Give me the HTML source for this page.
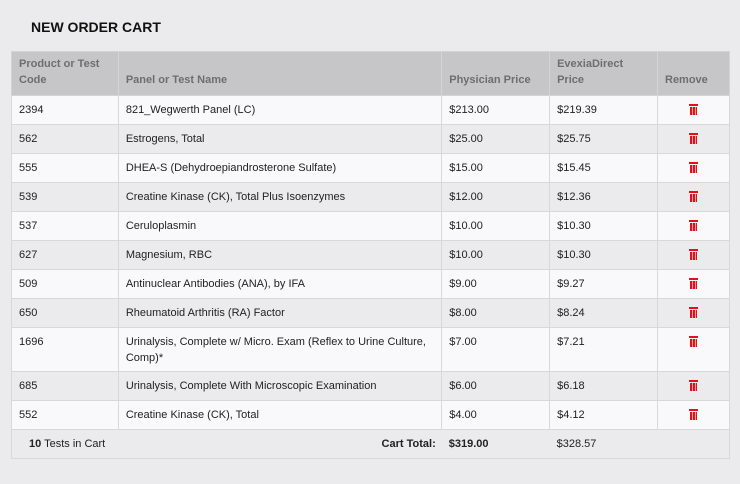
<!DOCTYPE html>
<html><head><style>
body{margin:0;width:740px;height:484px;background:#ebeaec;font-family:"Liberation Sans",sans-serif;position:relative;overflow:hidden}
h1{position:absolute;left:31px;top:19px;margin:0;font-size:14px;font-weight:bold;color:#111}
table{position:absolute;left:11px;top:51px;border-collapse:collapse;width:719px;font-size:11px;color:#222}
td,th{border:1px solid #d8d7d9;padding:0 7px;vertical-align:middle;text-align:left}
th{background:#c6c5c7;color:#6e6d70;font-weight:bold;height:36px;vertical-align:bottom;padding-bottom:7px;padding-top:0;line-height:16px;border-color:#d4d3d5}
tbody tr{height:29px}
tbody tr:nth-child(odd){background:#f9f8fa}
tbody tr:nth-child(even){background:#ebeaec}
tr.tall{height:44px}
tr.tall td{vertical-align:top;padding-top:6px;line-height:16px}
.rm{text-align:center}
.bin{display:inline-block;width:9px;height:11px;position:relative;vertical-align:middle;top:-1px}
.bin:before{content:"";position:absolute;left:0;top:0;width:9px;height:2px;background:#e3101a}
.bin:after{content:"";position:absolute;left:1px;top:3px;width:7px;height:8px;background:repeating-linear-gradient(90deg,#e3101a 0 2px,#f5a0a3 2px 3px)}
tfoot td{background:#ebeaec;height:28px;border-left:none;border-right:none}
</style></head><body>
<h1>NEW ORDER CART</h1>
<table>
<colgroup><col style="width:107px"><col style="width:324px"><col style="width:108px"><col style="width:108px"><col style="width:72px"></colgroup>
<thead><tr><th>Product or Test Code</th><th>Panel or Test Name</th><th>Physician Price</th><th>EvexiaDirect Price</th><th>Remove</th></tr></thead>
<tbody>
<tr><td>2394</td><td>821_Wegwerth Panel (LC)</td><td>$213.00</td><td>$219.39</td><td class="rm"><span class="bin"></span></td></tr>
<tr><td>562</td><td>Estrogens, Total</td><td>$25.00</td><td>$25.75</td><td class="rm"><span class="bin"></span></td></tr>
<tr><td>555</td><td>DHEA-S (Dehydroepiandrosterone Sulfate)</td><td>$15.00</td><td>$15.45</td><td class="rm"><span class="bin"></span></td></tr>
<tr><td>539</td><td>Creatine Kinase (CK), Total Plus Isoenzymes</td><td>$12.00</td><td>$12.36</td><td class="rm"><span class="bin"></span></td></tr>
<tr><td>537</td><td>Ceruloplasmin</td><td>$10.00</td><td>$10.30</td><td class="rm"><span class="bin"></span></td></tr>
<tr><td>627</td><td>Magnesium, RBC</td><td>$10.00</td><td>$10.30</td><td class="rm"><span class="bin"></span></td></tr>
<tr><td>509</td><td>Antinuclear Antibodies (ANA), by IFA</td><td>$9.00</td><td>$9.27</td><td class="rm"><span class="bin"></span></td></tr>
<tr><td>650</td><td>Rheumatoid Arthritis (RA) Factor</td><td>$8.00</td><td>$8.24</td><td class="rm"><span class="bin"></span></td></tr>
<tr class="tall"><td>1696</td><td>Urinalysis, Complete w/ Micro. Exam (Reflex to Urine Culture, Comp)*</td><td>$7.00</td><td>$7.21</td><td class="rm"><span class="bin"></span></td></tr>
<tr><td>685</td><td>Urinalysis, Complete With Microscopic Examination</td><td>$6.00</td><td>$6.18</td><td class="rm"><span class="bin"></span></td></tr>
<tr><td>552</td><td>Creatine Kinase (CK), Total</td><td>$4.00</td><td>$4.12</td><td class="rm"><span class="bin"></span></td></tr>
</tbody>
<tfoot><tr><td colspan="2" style="border-left:1px solid #d8d7d9;padding-left:17px"><b>10</b> Tests in Cart<b style="float:right;margin-right:-1px">Cart Total:</b></td><td><b>$319.00</b></td><td>$328.57</td><td style="border-right:1px solid #d8d7d9"></td></tr></tfoot>
</table>
</body></html>
